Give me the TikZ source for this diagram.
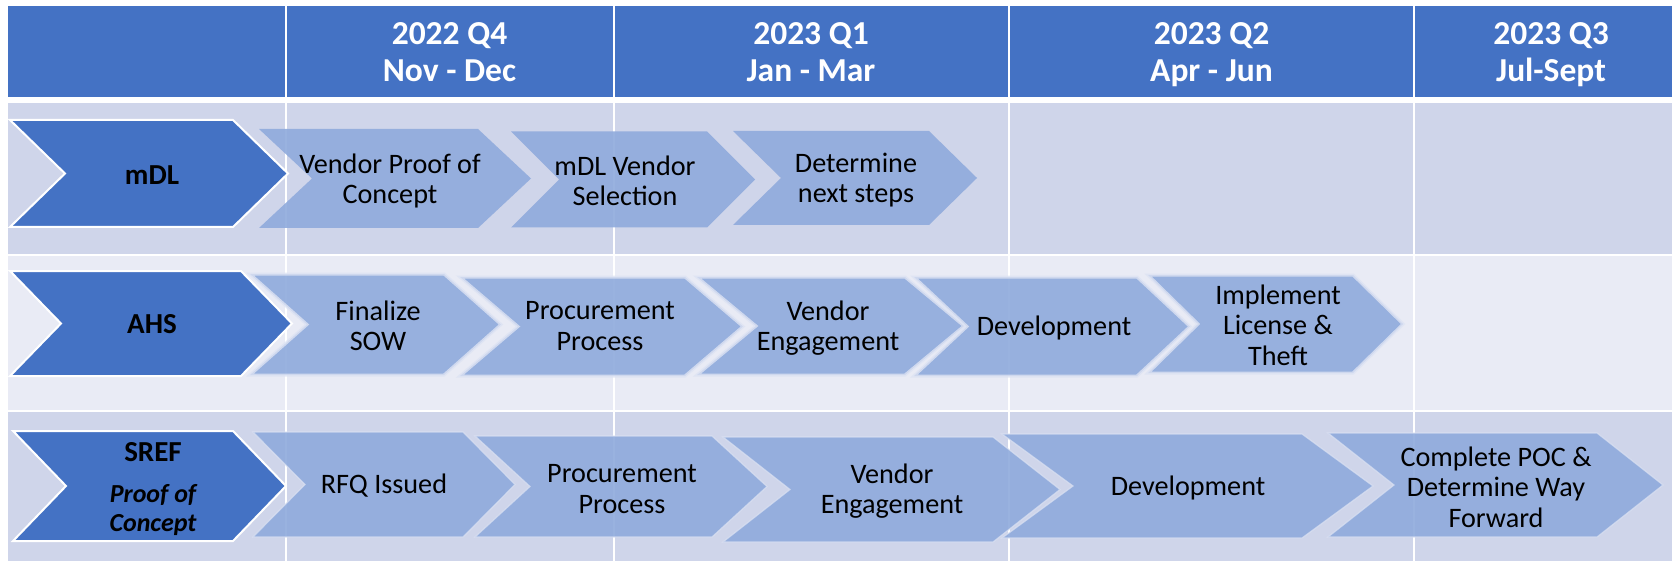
\documentclass[tikz,border=0pt]{standalone}
\usepackage{fontspec}
\setmainfont{Carlito}

\definecolor{hdrblue}{HTML}{4472C4}
\definecolor{bandA}{HTML}{CFD5EA}
\definecolor{bandB}{HTML}{E9EBF5}
\definecolor{stepblue}{HTML}{8FAADC}
\definecolor{glowline}{HTML}{DDE3F3}

% chevron outline: #1 style, #2 left x, #3 x where the flat top ends,
% #4 depth of point and notch, #5 top y, #6 bottom y
\newcommand\chevronpath[6]{%
  \path[#1] (#2,#5) -- (#3,#5) -- ({#3+#4},{(#5+#6)/2}) -- (#3,#6)
    -- (#2,#6) -- ({#2+#4},{(#5+#6)/2}) -- cycle;}

\begin{document}
\begin{tikzpicture}[x=1pt,y=-1pt,
  headcell/.style={fill=hdrblue},
  bandcellA/.style={fill=bandA},
  bandcellB/.style={fill=bandB},
  gridline/.style={draw=white,line width=2pt},
  leadchev/.style={fill=hdrblue,draw=white,line width=2pt,line join=miter},
  stepchev/.style={fill=stepblue,fill opacity=0.9},
  stepchevglow/.style={fill=stepblue,fill opacity=0.9,draw=glowline,line width=3pt,draw opacity=0.8},
  stepchevsoft/.style={fill=stepblue,fill opacity=0.9,draw=glowline,line width=1.2pt,draw opacity=0.7},
  hdrtext/.style={text=white,anchor=base,inner sep=0pt,
    font=\fontsize{33.5}{38}\selectfont\bfseries},
  leadtext/.style={text=black,align=center,inner sep=0pt,
    font=\fontsize{29}{32}\selectfont\bfseries},
  steptext/.style={text=black,align=center,inner sep=0pt,
    font=\fontsize{28.2}{30.5}\selectfont}
]
\useasboundingbox (0,0) rectangle (1672,561);
\fill[white] (0,0) rectangle (1672,561);

% table background
\path[headcell]  (8,5.7)   rectangle (1672,96.7);
\path[bandcellA] (8,103.3) rectangle (1672,254.5);
\path[bandcellB] (8,256.5) rectangle (1672,409.5);
\path[bandcellA] (8,411.5) rectangle (1672,561);

% column separators
\foreach \cx in {286,613.5,1009,1414}
  \draw[gridline] (\cx,5.7) -- (\cx,561);

% column headings
\node[hdrtext] (q4y) at (449.5,44.3) {2022 Q4};
\node[hdrtext] (q4m) at (449.5,81.7) {Nov - Dec};
\node[hdrtext] (q1y) at (811,44.3) {2023 Q1};
\node[hdrtext] (q1m) at (811,81.7) {Jan - Mar};
\node[hdrtext] (q2y) at (1211.5,44.3) {2023 Q2};
\node[hdrtext] (q2m) at (1211.5,81.7) {Apr - Jun};
\node[hdrtext] (q3y) at (1551,44.3) {2023 Q3};
\node[hdrtext] (q3m) at (1551,81.7) {Jul-Sept};

% ---- mDL track
\chevronpath{stepchev}{259}{478}{53}{129}{228}
\chevronpath{stepchev}{511}{707}{48}{131.5}{227.5}
\chevronpath{stepchev}{733}{929}{48}{131}{225}
\chevronpath{leadchev}{10}{233}{55}{120}{227}
\node[leadtext] (mdl)  at (152,175) {mDL};
\node[steptext] (vpoc) at (390,181) {Vendor Proof of\\Concept};
\node[steptext] (vsel) at (625,181) {mDL Vendor\\Selection};
\node[steptext] (next) at (856,180) {Determine\\next steps};

% ---- AHS track
\chevronpath{stepchevglow}{250}{444}{57}{274}{375}
\chevronpath{stepchevglow}{460}{685}{58}{277}{376}
\chevronpath{stepchevglow}{697}{905}{59}{277}{375}
\chevronpath{stepchevglow}{914}{1137}{53}{277}{376}
\chevronpath{stepchevglow}{1148}{1353}{50}{275}{373}
\chevronpath{leadchev}{10}{241}{51}{271}{376}
\node[leadtext] (ahs)   at (152,324) {AHS};
\node[steptext] (sow)   at (378,326) {Finalize\\SOW};
\node[steptext] (proc2) at (600,326) {Procurement\\Process};
\node[steptext] (eng2)  at (828,328) {Vendor\\Engagement};
\node[steptext] (dev2)  at (1054,328) {Development};
\node[steptext] (impl)  at (1278,325) {Implement\\License \&\\Theft};

% ---- SREF track
\chevronpath{stepchevsoft}{253}{463}{52}{432}{537}
\chevronpath{stepchevsoft}{475}{712}{55}{436}{537}
\chevronpath{stepchevsoft}{723}{993}{67}{437}{542}
\chevronpath{stepchevsoft}{1002}{1302}{71}{434}{538}
\chevronpath{stepchevsoft}{1328}{1597}{66}{433}{537}
\chevronpath{leadchev}{13}{233}{53}{431}{541}
\node[leadtext] (sref)  at (153,452) {SREF};
\node[leadtext,font=\fontsize{26}{28.5}\selectfont\bfseries\itshape] (poc)
  at (153,510) {Proof of\\Concept};
\node[steptext] (rfq)   at (384,486) {RFQ Issued};
\node[steptext] (proc3) at (622,489) {Procurement\\Process};
\node[steptext] (eng3)  at (892,491) {Vendor\\Engagement};
\node[steptext] (dev3)  at (1188,488) {Development};
\node[steptext] (cpoc)  at (1496,487) {Complete POC \&\\Determine Way\\Forward};
\end{tikzpicture}
\end{document}
